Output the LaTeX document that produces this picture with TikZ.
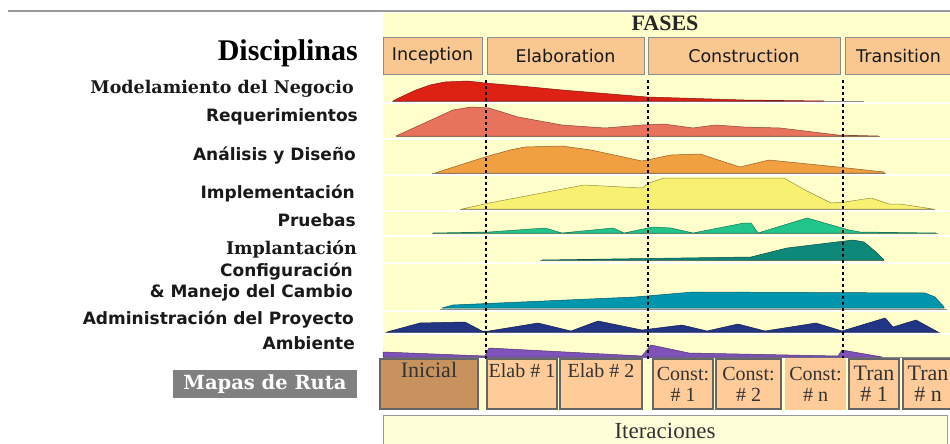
\documentclass[tikz,border=0pt]{standalone}
\usepackage{fontspec}
\setmainfont{Liberation Serif}
\newfontfamily\vsans{DejaVu Sans}
\newfontfamily\dserif{DejaVu Serif}
\definecolor{bgyel}{HTML}{FFFFCC}
\definecolor{phasefill}{HTML}{F8C890}
\definecolor{iterfill}{HTML}{FFCC99}
\definecolor{inifill}{HTML}{C8925E}
\definecolor{itfill}{HTML}{FFFFDA}
\definecolor{cA}{HTML}{DD2214}
\definecolor{cB}{HTML}{E8735C}
\definecolor{cC}{HTML}{F0A040}
\definecolor{cD}{HTML}{F8F070}
\definecolor{cE}{HTML}{22C68A}
\definecolor{cF}{HTML}{0E8878}
\definecolor{cG}{HTML}{0096AE}
\definecolor{cH}{HTML}{223484}
\definecolor{cI}{HTML}{7E52B8}
\begin{document}
\begin{tikzpicture}[x=1pt,y=-1pt,
  lab/.style={anchor=east, font=\vsans\bfseries\fontsize{17}{18}\selectfont, text=black!90, inner sep=0},
  slab/.style={anchor=east, font=\dserif\bfseries\fontsize{17.5}{18}\selectfont, text=black!90, inner sep=0},
  phase/.style={draw=black!45, line width=1pt, fill=phasefill, minimum height=36, inner sep=0, font=\vsans\fontsize{17.5}{19}\selectfont, text=black!90},
  itb/.style={draw=black!60, line width=1.2pt, fill=iterfill, minimum height=50, inner sep=0, align=center, font=\fontsize{20}{21}\selectfont, text=black!80},
  hump/.style={fill=#1, draw=#1!60!black, line width=0.5pt, line join=round},
  base/.style={draw=black!45, line width=0.8pt},
  sep/.style={draw=white, line width=1.6pt},
  phaseline/.style={draw=black, line width=2.2pt, dash pattern=on 3pt off 3pt}]
\useasboundingbox (0,0) rectangle (950,444);
% top rule and background
\draw[black!40, line width=1.5pt] (8,11) -- (950,11);
\fill[bgyel] (383,13) rectangle (950,410);
\foreach \yy in {103,139,175,211,236,263,311,334,359} \draw[sep] (383,\yy) -- (950,\yy);

% titles
\node[font=\bfseries\fontsize{22}{24}\selectfont, text=black!85] (fases) at (665,23) {FASES};
\node[anchor=east, font=\bfseries\fontsize{30}{32}\selectfont, inner sep=0] (disc) at (358,53) {Disciplinas};

% phase boxes
\node[phase, minimum width=99] (inc) at (432.5,56) {Inception};
\node[phase, minimum width=157] (ela) at (565.5,56) {Elaboration};
\node[phase, minimum width=192] (con) at (744,56) {Construction};
\node[phase, minimum width=107] (tra) at (898.5,56) {Transition};

% discipline labels
\node[slab] (l1) at (354,89) {Modelamiento del Negocio};
\node[lab] (l2) at (358,117) {Requerimientos};
\node[lab] (l3) at (356,156) {Análisis y Diseño};
\node[lab] (l4) at (355,193) {Implementación};
\node[lab] (l5) at (356,220) {Pruebas};
\node[slab] (l6) at (357,249) {Implantación};
\node[lab] (l7) at (353,272) {Configuración};
\node[lab] (l8) at (353,293) {\& Manejo del Cambio};
\node[lab] (l9) at (354,320) {Administración del Proyecto};
\node[lab] (l10) at (355,343) {Ambiente};
\node[fill=black!50, minimum width=184, minimum height=28, inner sep=0, text=white, font=\dserif\bfseries\fontsize{19.5}{20}\selectfont] (mapas) at (265,384) {Mapas de Ruta};

% humps
% 1 Modelamiento del Negocio
\draw[base] (392,101) -- (864,101);
\path[hump=cA] (393,101) -- (405,95) -- (416,90) -- (430,85) -- (445,82) -- (467,81) -- (485,83) -- (520,86) -- (562,90) -- (647,97) -- (744,100) -- (824,101) -- cycle;
% 2 Requerimientos
\draw[base] (396,136) -- (880,136);
\path[hump=cB] (396,136) -- (453,110) -- (471,107) -- (489,108) -- (518,117) -- (562,125) -- (605,128) -- (642,125) -- (664,124) -- (693,128) -- (715,125) -- (744,127) -- (780,128) -- (838,135) -- (878,136) -- cycle;
% 3 Analisis y Diseno
\draw[base] (432,173) -- (886,173);
\path[hump=cC] (435,173) -- (485,157) -- (510,150) -- (525,147) -- (562,146) -- (591,150) -- (642,161) -- (671,155) -- (700,154) -- (740,167) -- (769,160) -- (838,167) -- (884,172) -- (884,173) -- cycle;
% 4 Implementacion
\draw[base] (460,209) -- (935,209);
\path[hump=cD] (462,209) -- (489,203) -- (584,185) -- (642,188) -- (649,183) -- (664,178) -- (784,178) -- (805,190) -- (831,203) -- (845,202) -- (871,198) -- (889,204) -- (900,204) -- (933,209) -- cycle;
% 5 Pruebas
\draw[base] (432,233) -- (938,233);
\path[hump=cE] (433,233) -- (489,232) -- (545,228) -- (562,233) -- (613,228) -- (624,233) -- (653,227) -- (671,228) -- (693,233) -- (744,223) -- (751,223) -- (758,233) -- (807,218) -- (849,230) -- (860,232) -- (936,233) -- cycle;
% 6 Implantacion
\draw[base] (540,260) -- (884,260);
\path[hump=cF] (542,260) -- (751,257) -- (787,248) -- (853,240) -- (864,242) -- (876,252) -- (884,260) -- cycle;
% 7 Configuracion
\draw[base] (440,309) -- (947,309);
\path[hump=cG] (442,308) -- (453,305) -- (635,297) -- (693,292) -- (925,293) -- (935,297) -- (944,307) -- (944,308) -- cycle;
% 8 Administracion del Proyecto
\draw[base] (385,332) -- (940,332);
\path[hump=cH] (387,332) -- (420,323) -- (465,322) -- (482,331) -- (489,331) -- (538,323) -- (571,331) -- (598,321) -- (642,330) -- (682,325) -- (707,331) -- (738,324) -- (765,331) -- (816,323) -- (842,331) -- (885,318) -- (893,327) -- (916,320) -- (938,332) -- cycle;
% 9 Ambiente
\draw[base] (383,357) -- (950,357);
\path[hump=cI] (383,352) -- (485,356) -- (489,348) -- (642,356) -- (651,345) -- (689,353) -- (838,356) -- (842,350) -- (882,357) -- (383,357) -- cycle;

% phase separators (dotted verticals)
\coordinate (d1t) at (486,80); \coordinate (d1b) at (486,362);
\coordinate (d2t) at (648,80); \coordinate (d2b) at (648,362);
\coordinate (d3t) at (843,80); \coordinate (d3b) at (843,362);
\draw[phaseline] (d1t) -- (d1b);
\draw[phaseline] (d2t) -- (d2b);
\draw[phaseline] (d3t) -- (d3b);

% iteration boxes
\node[itb, fill=inifill, minimum width=98, font=\fontsize{22}{21}\selectfont] (ini) at (429,384) {Inicial\\\strut};
\node[itb, minimum width=70] (e1) at (522,384) {Elab \# 1\\\strut};
\node[itb, minimum width=82] (e2) at (601,384) {Elab \# 2\\\strut};
\node[itb, minimum width=60] (c1) at (683,384) {Const:\\\# 1};
\node[itb, minimum width=65] (c2) at (748.5,384) {Const:\\\# 2};
\node[itb, draw=iterfill, minimum width=59] (cn) at (815.5,384) {Const:\\\# n};
\node[itb, minimum width=50, font=\fontsize{22}{21}\selectfont] (t1) at (874,384) {Tran\\\# 1};
\node[itb, minimum width=50, font=\fontsize{22}{21}\selectfont] (tn) at (928,384) {Tran\\\# n};
\node[draw=black!40, line width=1pt, fill=itfill, minimum width=564, minimum height=32, inner sep=0, font=\fontsize{23}{24}\selectfont, text=black!80] (iter) at (665,431) {Iteraciones};
\end{tikzpicture}
\end{document}
